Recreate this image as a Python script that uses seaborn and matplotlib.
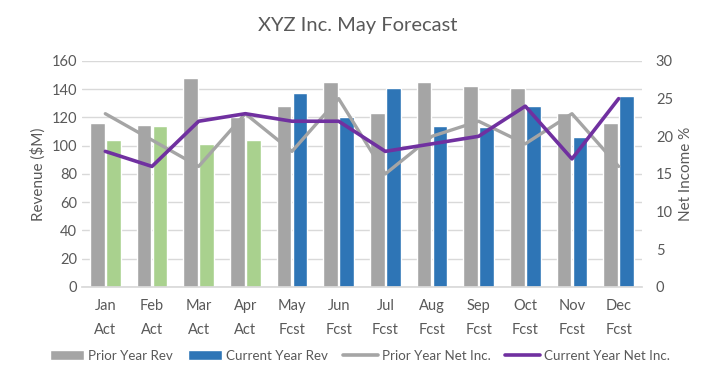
import numpy as np
import pandas as pd
import matplotlib
matplotlib.use("Agg")
import matplotlib.pyplot as plt
import seaborn as sns
from matplotlib.patches import Patch
from matplotlib.lines import Line2D

months = ["Jan", "Feb", "Mar", "Apr", "May", "Jun", "Jul", "Aug", "Sep", "Oct", "Nov", "Dec"]
status = ["Act", "Act", "Act", "Act", "Fcst", "Fcst", "Fcst", "Fcst", "Fcst", "Fcst", "Fcst", "Fcst"]
prior_rev = [116, 115, 148, 120, 128, 145, 123, 145, 142, 141, 123, 116]
current_rev = [104, 114, 101, 104, 137, 120, 141, 114, 113, 128, 106, 135]
prior_ni = [23, 19.5, 16, 23, 18, 25, 15, 20, 22, 19, 23, 16]
current_ni = [18, 16, 22, 23, 22, 22, 18, 19, 20, 24, 17, 25]

GRAY = "#A5A5A5"
BLUE = "#2E75B6"
GREEN = "#A9D18E"
PURPLE = "#7030A0"
TXT = "#595959"

sns.set_theme(style="white")
plt.rcParams["font.family"] = ["Lato", "DejaVu Sans"]

labels = [f"{m}\n{s}" for m, s in zip(months, status)]
df = pd.DataFrame({
    "label": labels * 2,
    "rev": prior_rev + current_rev,
    "series": ["Prior Year Rev"] * 12 + ["Current Year Rev"] * 12,
})

fig = plt.figure(figsize=(7.05, 3.8), dpi=100)
ax = fig.add_axes([0.1163, 0.245, 0.7943, 0.5945])

sns.barplot(data=df, x="label", y="rev", hue="series", order=labels,
            hue_order=["Prior Year Rev", "Current Year Rev"],
            palette=[GRAY, BLUE], width=0.69, gap=0.08, ax=ax,
            legend=False, saturation=1, errorbar=None)

# recolor actual-month current-year bars green
cur_patches = ax.patches[12:24]
for p, s in zip(cur_patches, status):
    if s == "Act":
        p.set_facecolor(GREEN)

ax.set_ylim(0, 160)
ax.set_yticks(range(0, 161, 20))
ax.set_xlim(-0.5, 11.5)
ax.grid(axis="y", color="#D9D9D9", linewidth=1)
ax.set_axisbelow(True)
ax.set_xlabel("")
ax.set_ylabel("Revenue ($M)", color=TXT, fontsize=11)
ax.tick_params(axis="both", length=0, colors=TXT, labelsize=10.5)
ax.tick_params(axis="x", pad=9)
for t in ax.get_xticklabels():
    t.set_linespacing(1.9)
for s in ax.spines.values():
    s.set_visible(False)
ax.spines["bottom"].set_visible(True)
ax.spines["bottom"].set_color("#D9D9D9")

ax2 = ax.twinx()
x = np.arange(12)
sns.lineplot(x=x, y=prior_ni, ax=ax2, color=GRAY, linewidth=2.4, sort=False)
sns.lineplot(x=x, y=current_ni, ax=ax2, color=PURPLE, linewidth=2.6, sort=False)
ax2.set_ylim(0, 30)
ax2.set_yticks(range(0, 31, 5))
ax2.set_xlim(-0.5, 11.5)
ax2.set_ylabel("Net Income %", color=TXT, fontsize=11)
ax2.tick_params(axis="y", length=0, colors=TXT, labelsize=10.5, pad=10)
for s in ax2.spines.values():
    s.set_visible(False)

fig.suptitle("XYZ Inc. May Forecast", x=0.507, y=0.955, fontsize=14.5, color=TXT)

handles = [
    Patch(facecolor=GRAY, label="Prior Year Rev"),
    Patch(facecolor=BLUE, label="Current Year Rev"),
    Line2D([0], [0], color=GRAY, lw=2.6, label="Prior Year Net Inc."),
    Line2D([0], [0], color=PURPLE, lw=2.6, label="Current Year Net Inc."),
]
leg = fig.legend(handles=handles, loc="center", bbox_to_anchor=(0.51, 0.064), ncol=4,
                 frameon=False, fontsize=9.6, handlelength=2.6, handleheight=0.7,
                 columnspacing=1.1, handletextpad=0.3)
for t in leg.get_texts():
    t.set_color(TXT)

fig.savefig("out.png", dpi=100)
